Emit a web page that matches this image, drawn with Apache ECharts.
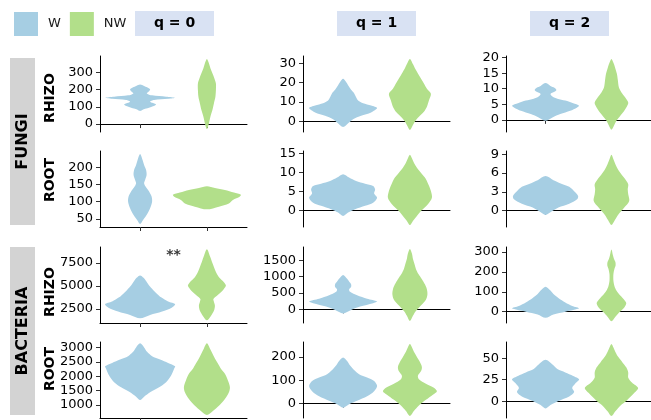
<!DOCTYPE html>
<html>
<head>
<meta charset="utf-8">
<script src="https://cdn.jsdelivr.net/npm/echarts@6/dist/echarts.min.js"></script>
<style>
  html, body { margin: 0; padding: 0; background: #fff; }
  #chart { width: 651px; height: 420px; }
</style>
</head>
<body>
<div id="chart"></div>
<script>
  'use strict'
  // groups, facets
  var groups = ['W', 'NW'];
  var qLabels = ['q = 0', 'q = 1', 'q = 2'];
  var rowLabels = ['RHIZO', 'ROOT', 'RHIZO', 'ROOT'];
  var kingdoms = ['FUNGI', 'BACTERIA'];

  // y-axis ticks per panel (row by row, q = 0,1,2)
  var ticksFungiRhizo = [[0, 100, 200, 300], [0, 10, 20, 30], [0, 5, 10, 15, 20]];
  var ticksFungiRoot = [[50, 100, 150, 200], [0, 5, 10, 15], [0, 3, 6, 9]];
  var ticksBactRhizo = [[2500, 5000, 7500], [0, 500, 1000, 1500], [0, 100, 200, 300]];
  var ticksBactRoot = [[1000, 1500, 2000, 2500, 3000], [0, 100, 200], [0, 25, 50]];

  // y-axis limits per panel
  var yMin = [-46, -5.6, -3.9, 26, -4.3, -2.6, 998, -418, -57, 554, -62, -19.4];
  var yMax = [395, 33.8, 20.5, 248, 15.7, 9.5, 9222, 1909, 325, 3186, 264, 68.7];

  // violin profiles: [value, density]
  var fungiRhizoQ0_W = [[76,0],[85,3],[101,11.7],[114,16],[130,10],[139.5,14],[147,28],[153,35],[159,26],[166.6,12],[178,6.7],[190,9],[201.5,10],[213,7],[221,4],[229,0]];
  var fungiRhizoQ0_NW = [[-29,0],[4,2],[43,3.5],[81,5.5],[120,7],[159,8.5],[198,9],[236,9],[265,7.5],[295,5.5],[324,3.5],[353,2],[378,0]];
  var fungiRhizoQ1_W = [[-3,0],[-0.7,6],[1,10],[2.8,18],[4.55,28],[6.8,34],[8.1,28],[9.3,20],[10.7,15],[12.4,13],[14.5,11],[16.3,8],[18.6,5],[20.3,3],[22,0]];
  var fungiRhizoQ1_NW = [[-4.6,0],[-2.5,2.5],[-0.2,5],[2.3,9],[4.9,14],[7.5,17],[10.7,19],[14.2,21],[16.8,17],[19.5,14],[22.1,11],[24.7,8],[27.4,5],[29.6,3],[32.3,0]];
  var fungiRhizoQ2_W = [[-0.3,0],[0.76,7],[1.84,15],[2.9,25],[4,32],[4.55,34],[5.3,28],[6.2,20],[6.8,12],[7.5,7],[8.3,5],[9,9],[9.6,11],[10.3,9],[10.9,5],[11.8,0]];
  var fungiRhizoQ2_NW = [[-3.2,0],[-1.9,2.5],[-0.3,5],[1.3,9],[2.9,13],[4.5,16],[5.6,17],[7.2,14],[8.9,10],[10.5,7.5],[12.7,6.5],[14.8,5.5],[17,3.5],[18.3,2],[19.5,0]];

  var fungiRootQ0_W = [[35,0],[46.5,3],[61,6.5],[80.6,10],[100,12],[115,11.5],[129.4,9],[144,5.5],[154,4],[163.5,5],[178,6.5],[192.7,6],[207,4],[222,2.5],[239.5,0]];
  var fungiRootQ0_NW = [[77.7,0],[85.5,12],[95,22],[105,26],[115,33],[120,34],[126.5,27],[134,18],[140,8],[145,0]];
  var fungiRootQ1_W = [[-1.4,0],[-0.5,5],[0.4,12],[1.3,22],[2.1,30],[3.4,34],[4.5,31],[5.6,32],[6.5,30],[7.1,22],[7.8,13],[8.7,6],[9.6,0]];
  var fungiRootQ1_NW = [[-3.8,0],[-2.7,3],[-1.4,7],[-0.1,11],[1.7,18],[3.4,22],[5.2,21],[6.9,18.5],[8.7,15],[10,11],[11.3,7],[12.6,4],[13.8,2],[14.7,0]];
  var fungiRootQ2_W = [[-0.7,0],[-0.15,6],[0.5,13],[1.1,24],[1.8,32],[2.35,33],[3.1,29],[3.8,24],[4.3,16],[4.85,8],[5.5,0]];
  var fungiRootQ2_NW = [[-2.3,0],[-1.5,3.5],[-0.6,7],[0.5,13],[1.55,18],[2.6,17],[3.4,16.5],[4.2,17],[5,14],[5.8,10],[6.6,6.5],[7.4,4],[8.2,2],[8.9,0]];

  var bactRhizoQ0_W = [[1509,0],[1875,10],[2240,22],[2679,32],[3044,35],[3337,28],[3775,21],[4141,17],[4580,13],[5055,9],[5530,6],[5895,3.5],[6151,0]];
  var bactRhizoQ0_NW = [[1290,0],[1765,4],[2314,7],[2862,8],[3300,7],[3593,6.5],[3958,10],[4324,14],[4689,17],[5055,19],[5420,17],[5895,12.5],[6517,9],[7065,7],[7613,5],[8235,3],[8966,0]];
  var bactRhizoQ1_W = [[-124,0],[-19,8],[85,17],[190,30],[242,34],[326,24],[431,14],[536,7],[609,6],[683,8],[766,8],[850,6],[934,4],[1050,0]];
  var bactRhizoQ1_NW = [[-355,0],[-198,3],[-51,6],[117,11],[295,16],[452,17.5],[609,17],[766,15],[924,12],[1081,8.5],[1238,6],[1395,4.5],[1553,3],[1710,2],[1846,0]];
  var bactRhizoQ2_W = [[-31,0],[-13.7,8],[0,20],[17,34],[29,27],[46,20],[69,13],[89,8],[106,5],[125,0]];
  var bactRhizoQ2_NW = [[-48,0],[-25.7,4],[-3.4,8],[20.6,13],[43,15],[65,12],[86,8],[106,5],[129,3],[155,2],[189,2],[215,3],[232,4.2],[249,4],[266,2.5],[284,1.5],[313,0]];

  var bactRootQ0_W = [[1174,0],[1291,4],[1443,10],[1619,19],[1794,26],[2028,31],[2262,34],[2344,35],[2461,28],[2578,20],[2695,12],[2847,7],[2999,4],[3139,0]];
  var bactRootQ0_NW = [[660,0],[800,6],[976,12],[1209,18],[1443,22],[1619,23],[1853,21],[2087,18],[2262,14],[2438,11],[2613,8],[2788,5.5],[2964,3],[3139,0]];
  var bactRootQ1_W = [[-17.6,0],[-2.9,6],[12,14],[31,24],[53,31],[75,34],[97,31],[112,24],[126,16],[144,11],[163,7],[182,4],[197,0]];
  var bactRootQ1_NW = [[-53,0],[-32,4],[-8.7,9],[16,16],[38,23],[53,27],[68,24],[85,16],[104,9],[119,8],[138,11],[156,12],[178,10],[200,7],[222,4],[241,2],[255,0]];
  var bactRootQ2_W = [[-8.3,0],[-4.3,5],[0.4,13],[5.6,24],[10.8,29],[15.5,27],[20.3,30],[25.4,34],[29.4,28],[33.4,20],[37.3,12],[42.5,7],[48,0]];
  var bactRootQ2_NW = [[-17,0],[-11.5,4],[-5.1,9],[1.6,16],[9.6,23],[15.5,27],[21.5,21],[27.4,17],[33.4,17],[39.3,15],[45.3,11],[51.2,7],[57.2,4],[62.3,2],[66.3,0]];

  // significance mark: [x, y] in panel BACTERIA RHIZO q = 0
  var sigMark = [[1.5, 8350]];

  var panelTicks = ticksFungiRhizo.concat(ticksFungiRoot, ticksBactRhizo, ticksBactRoot);
  var violinsW = [fungiRhizoQ0_W, fungiRhizoQ1_W, fungiRhizoQ2_W, fungiRootQ0_W, fungiRootQ1_W, fungiRootQ2_W,
                  bactRhizoQ0_W, bactRhizoQ1_W, bactRhizoQ2_W, bactRootQ0_W, bactRootQ1_W, bactRootQ2_W];
  var violinsNW = [fungiRhizoQ0_NW, fungiRhizoQ1_NW, fungiRhizoQ2_NW, fungiRootQ0_NW, fungiRootQ1_NW, fungiRootQ2_NW,
                   bactRhizoQ0_NW, bactRhizoQ1_NW, bactRhizoQ2_NW, bactRootQ0_NW, bactRootQ1_NW, bactRootQ2_NW];

  var colors = ['#a6cee3', '#b2df8a'];
  var FONT = '"DejaVu Sans", Arial, sans-serif';
  var colLeft = [100, 303, 506];
  var rowTop = [56, 151, 247, 342];
  var PW = 147, PH = 76;
  var DENS = 1 / 66.8;   // density -> x units

  var grids = [], xAxes = [], yAxes = [], series = [];

  function violin(profile, cx) {
    return function (params, api) {
      var pts = [];
      for (var i = 0; i < profile.length; i++) {
        pts.push(api.coord([cx + profile[i][1] * DENS, profile[i][0]]));
      }
      for (var j = profile.length - 2; j > 0; j--) {
        pts.push(api.coord([cx - profile[j][1] * DENS, profile[j][0]]));
      }
      return {
        type: 'polygon',
        shape: { points: pts, smooth: 0.3 },
        style: { fill: api.visual('color') }
      };
    };
  }

  for (var p = 0; p < 12; p++) {
    var r = Math.floor(p / 3), c = p % 3;
    grids.push({ left: colLeft[c], top: rowTop[r], width: PW, height: PH });
    xAxes.push({
      type: 'value', gridIndex: p, min: 0.4, max: 2.6,
      splitLine: { show: false },
      axisLine: { show: true, lineStyle: { color: '#000', width: 1 } },
      axisTick: { show: true, length: 4, customValues: [1, 2], lineStyle: { color: '#333' } },
      axisLabel: { show: false }
    });
    yAxes.push({
      type: 'value', gridIndex: p, min: yMin[p], max: yMax[p],
      splitLine: { show: false },
      axisLine: { show: true, lineStyle: { color: '#000', width: 1 } },
      axisTick: { show: true, length: 4, customValues: panelTicks[p], lineStyle: { color: '#333' } },
      axisLabel: {
        customValues: panelTicks[p], fontSize: 13, color: '#000', fontFamily: FONT, margin: 7,
        formatter: function (v) { return String(v); }
      }
    });
    series.push({
      name: groups[0], type: 'custom', xAxisIndex: p, yAxisIndex: p,
      itemStyle: { color: colors[0] },
      renderItem: violin(violinsW[p], 1), data: [[1, 0]]
    });
    series.push({
      name: groups[1], type: 'custom', xAxisIndex: p, yAxisIndex: p,
      itemStyle: { color: colors[1] },
      renderItem: violin(violinsNW[p], 2), data: [[2, 0]]
    });
  }

  series.push({
    type: 'scatter', xAxisIndex: 6, yAxisIndex: 6, symbolSize: 0, data: sigMark,
    label: { show: true, position: 'inside', formatter: '**', fontSize: 14, fontWeight: 'bold', color: '#000', fontFamily: FONT },
    silent: true
  });

  // facet strips and row titles
  var graphics = [];
  var qStripX = [135, 337, 530];
  qLabels.forEach(function (t, i) {
    graphics.push({ type: 'rect', left: qStripX[i], top: 11, shape: { width: 79, height: 25 }, style: { fill: '#d9e2f3' } });
    graphics.push({ type: 'text', x: qStripX[i] + 39.5, y: 23.5,
      style: { text: t, fill: '#000', font: 'bold 14px ' + FONT, textAlign: 'center', textVerticalAlign: 'middle' } });
  });
  var kStrip = [[58, 167], [247, 168]];
  kingdoms.forEach(function (t, i) {
    graphics.push({ type: 'rect', left: 10, top: kStrip[i][0], shape: { width: 25, height: kStrip[i][1] }, style: { fill: '#d3d3d3' } });
    graphics.push({ type: 'text', x: 23, y: kStrip[i][0] + kStrip[i][1] / 2, rotation: Math.PI / 2,
      style: { text: t, fill: '#000', font: 'bold 16px ' + FONT, textAlign: 'center', textVerticalAlign: 'middle' } });
  });
  var rowTitleY = [98, 180, 292, 369];
  rowLabels.forEach(function (t, i) {
    graphics.push({ type: 'text', x: 50, y: rowTitleY[i], rotation: Math.PI / 2,
      style: { text: t, fill: '#000', font: 'bold 14px ' + FONT, textAlign: 'center', textVerticalAlign: 'middle' } });
  });

  var chart = echarts.init(document.getElementById('chart'));
  chart.setOption({
    animation: false,
    legend: {
      data: groups, left: 14, top: 12, padding: 0, icon: 'rect', itemWidth: 24, itemHeight: 24, itemGap: 9,
      textStyle: { fontSize: 13, color: '#1a1a1a', fontFamily: FONT, padding: [0, 0, 0, 5] }
    },
    grid: grids,
    xAxis: xAxes,
    yAxis: yAxes,
    series: series,
    graphic: graphics
  });
</script>
</body>
</html>
